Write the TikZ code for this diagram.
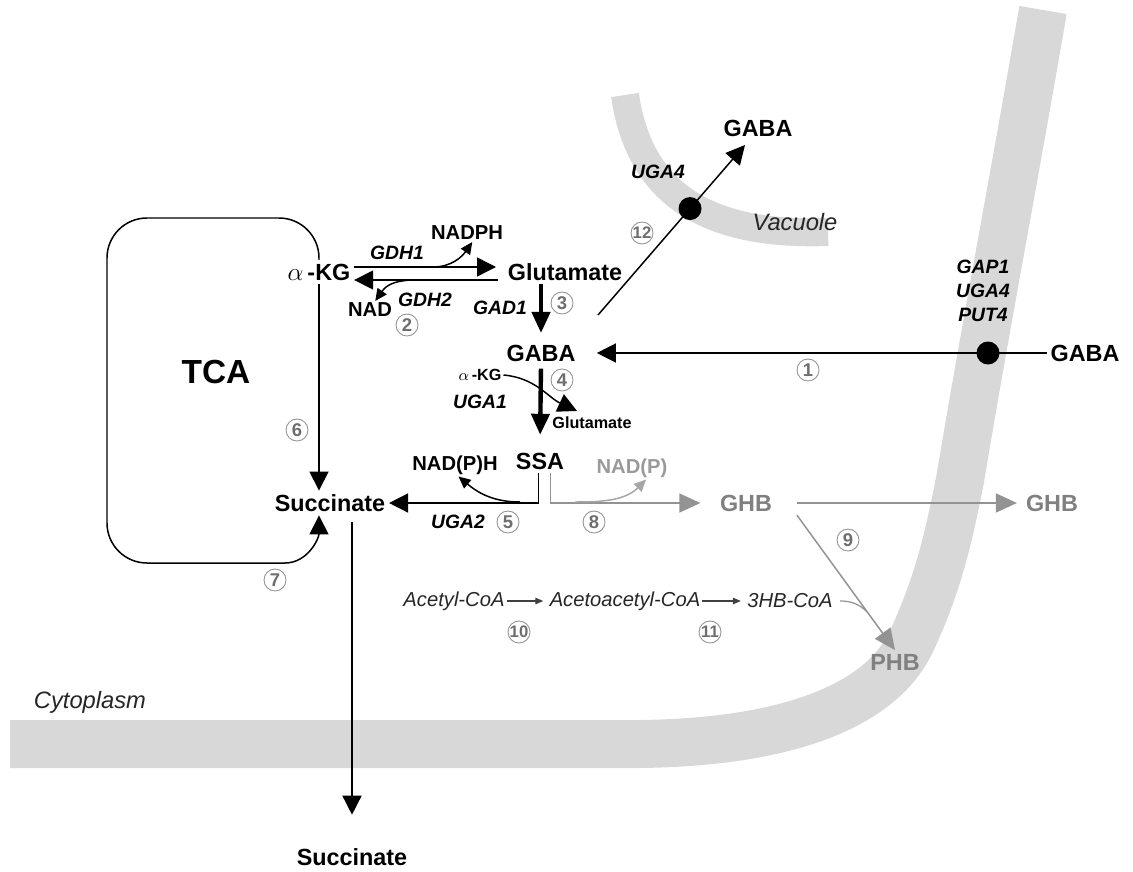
\documentclass[tikz,border=0pt]{standalone}
\usepackage{fontspec}
\setmainfont{Liberation Sans}
\usetikzlibrary{arrows.meta, positioning, calc}
\definecolor{membrane}{RGB}{216,216,216}
\definecolor{ghbgray}{RGB}{128,128,128}
\definecolor{numgray}{RGB}{110,110,110}

\tikzset{
  metab/.style={font=\fontsize{13.3}{15}\selectfont\bfseries, inner sep=2pt},
  gene/.style={font=\fontsize{11}{13.6}\selectfont\bfseries\itshape, inner sep=1pt},
  cofac/.style={font=\fontsize{11.5}{13}\selectfont\bfseries, inner sep=1pt},
  minor/.style={font=\fontsize{9.2}{11}\selectfont\bfseries, inner sep=1pt},
  coa/.style={font=\fontsize{11.5}{13}\selectfont\itshape, inner sep=1pt, text=black!85},
  region/.style={font=\fontsize{13.5}{15}\selectfont\itshape, text=black!85},
  num/.style={circle, draw=numgray!75, text=numgray, line width=0.5pt, inner sep=0pt,
    minimum size=0.44cm, font=\fontsize{10.5}{11}\selectfont\bfseries},
  arr/.style={-{Triangle[length=0.38cm,width=0.38cm]}, line width=0.85pt},
  thickarr/.style={-{Triangle[length=0.42cm,width=0.36cm]}, line width=2.5pt},
  cofarr/.style={-{Triangle[length=0.24cm,width=0.22cm]}, line width=0.85pt},
  garr/.style={draw=ghbgray!85, -{Triangle[length=0.42cm,width=0.38cm]}, line width=0.85pt},
  gcof/.style={draw=ghbgray!70, -{Triangle[length=0.24cm,width=0.22cm]}, line width=0.85pt},
  sarr/.style={draw=black!75, -{Triangle[length=0.16cm,width=0.13cm]}, line width=0.7pt},
  pump/.style={circle, fill=black, inner sep=0pt, minimum size=0.46cm}
}

\begin{document}
\begin{tikzpicture}[x=0.02cm, y=-0.02cm]
\useasboundingbox (0,0) rectangle (1133,872);

% membranes
\draw[membrane, line width=0.96cm] (10,744) -- (640,744)
  .. controls (800,742) and (885,700) .. (912,640)
  .. controls (940,580) and (950,530) .. (960,480)
  .. controls (985,330) and (1012,190) .. (1043,10);
\draw[membrane, line width=0.56cm] (625,95) .. controls (640,200) and (715,236) .. (828,232);
\node[region] (cyto) at (90,702) {Cytoplasm};
\node[region] (vac) at (795,222) {Vacuole};

% metabolites
\node[metab] (akg) at (319,272) {$\alpha$\,-KG};
\node[metab] (glu) at (565,272) {Glutamate};
\node[metab] (gaba) at (541,353) {GABA};
\node[metab] (ssa) at (540,461) {SSA};
\node[metab] (succ) at (330,503) {Succinate};
\node[metab] (succout) at (352,857) {Succinate};
\node[metab] (gabaout) at (1085,353) {GABA};
\node[metab] (gabav) at (758,128) {GABA};
\node[metab, text=ghbgray] (ghb) at (746,503) {GHB};
\node[metab, text=ghbgray] (ghbout) at (1052,503) {GHB};
\node[metab, text=ghbgray] (phb) at (895,662) {PHB};
\node[font=\fontsize{19}{21}\selectfont\bfseries] (tca) at (216,372) {TCA};

% cofactors and side products
\node[cofac] (nadph) at (467,233) {NADPH};
\node[cofac] (nad) at (370,310) {NAD};
\node[cofac] (nadph2) at (455,465) {NAD(P)H};
\node[cofac, text=ghbgray!80] (nadp) at (632,468) {NAD(P)};
\node[minor] (akgs) at (480,375) {$\alpha$\,-KG};
\node[minor] (glus) at (592,423) {Glutamate};

% PHB branch
\node[coa] (acetyl) at (454,601) {Acetyl-CoA};
\node[coa] (acac) at (625,601) {Acetoacetyl-CoA};
\node[coa] (hbcoa) at (790,601) {3HB-CoA};

% genes
\node[gene] (gdh1) at (397,253) {GDH1};
\node[gene] (gdh2) at (425,300) {GDH2};
\node[gene] (gad1) at (500,308) {GAD1};
\node[gene] (uga1) at (480,402) {UGA1};
\node[gene] (uga2) at (458,522) {UGA2};
\node[gene] (uga4) at (658,172) {UGA4};
\node[gene, align=center] (perm) at (983,291) {GAP1\\UGA4\\PUT4};

% step numbers
\node[num] (n1) at (808,370) {1};
\node[num] (n2) at (407,325) {2};
\node[num] (n3) at (562,303) {3};
\node[num] (n4) at (562,380) {4};
\node[num] (n5) at (508,522) {5};
\node[num] (n6) at (297,430) {6};
\node[num] (n7) at (275,580) {7};
\node[num] (n8) at (594,522) {8};
\node[num] (n9) at (848,540) {9};
\node[num, font=\fontsize{9.5}{10}\selectfont\bfseries] (n10) at (519,632) {10};
\node[num, font=\fontsize{9.5}{10}\selectfont\bfseries] (n11) at (710,632) {11};
\node[num, font=\fontsize{9.5}{10}\selectfont\bfseries] (n12) at (642,233) {12};

% TCA cycle
\draw[line width=0.85pt, rounded corners=0.8cm] (akg.north) |- (107,218) |- (285,563);
\draw[arr] (285,563) to[out=0,in=-90] (akg.south |- succ.south);
\draw[arr] (akg.south) -- (akg.south |- succ.north);

% GDH1 / GDH2
\draw[arr] ($(akg.east)+(0,-5)$) -- ($(glu.west)+(-8,-5)$);
\draw[arr] ($(glu.west)+(-6,8)$) -- ($(akg.east)+(0,8)$);
\coordinate (g1) at (433,267);
\coordinate (g2) at (447,280);
\draw[cofarr] (g1) to[out=0,in=-125] ([xshift=3pt]nadph.south);
\draw[cofarr] (g2) to[out=180,in=55] ([xshift=3pt]nad.north);

% GAD1, UGA1
\draw[thickarr, shorten >=4.5pt] (gaba.north |- glu.south) -- (gaba.north);
\draw[thickarr, shorten <=2pt, shorten >=8pt] (gaba.south) -- (ssa.north);
\coordinate (u1) at ($(glus.north)+(-15,-4)$);
\draw[arr] (akgs.east) to[out=-5,in=155] (u1);

% UGA2 and GHB
\draw[arr] ([xshift=-1pt]ssa.south) |- (succ.east);
\coordinate (c5) at (520,502);
\draw[cofarr] (c5) to[out=180,in=-40] ([xshift=2pt]nadph2.south);
\draw[garr, shorten >=9pt] ([xshift=6pt]ssa.south) |- (ghb.west);
\coordinate (c8) at (575,502);
\draw[gcof] (c8) to[out=0,in=-135] ([xshift=8pt]nadp.south);
\draw[garr, shorten <=12pt, shorten >=3pt] (ghb.east) -- (ghbout.west);
\draw[garr] ([xshift=12pt]ghb.south east) -- (phb.north);

% PHB synthesis
\draw[sarr, shorten >=2.5pt] (acetyl.east) -- (acac.west);
\draw[sarr, shorten >=2.5pt] (acac.east) -- (hbcoa.west);
\coordinate (m9) at ($([xshift=12pt]ghb.south east)!0.72!(phb.north)$);
\draw[draw=ghbgray!85, line width=0.7pt] ([xshift=3pt]hbcoa.east) to[out=0,in=135] (m9);

% export to medium
\draw[arr, shorten <=4pt, shorten >=17pt] (succout.north |- succ.south) -- (succout.north);

% transporters
\draw[arr, shorten >=10pt] (gabaout.west) -- (gaba.east);
\node[pump] (pm) at (988,353) {};
\coordinate (s12) at (598,315);
\coordinate (t12) at (745,145);
\draw[arr] (s12) -- (t12);
\node[pump] (pv) at ($(s12)!0.626!(t12)$) {};
\end{tikzpicture}
\end{document}
